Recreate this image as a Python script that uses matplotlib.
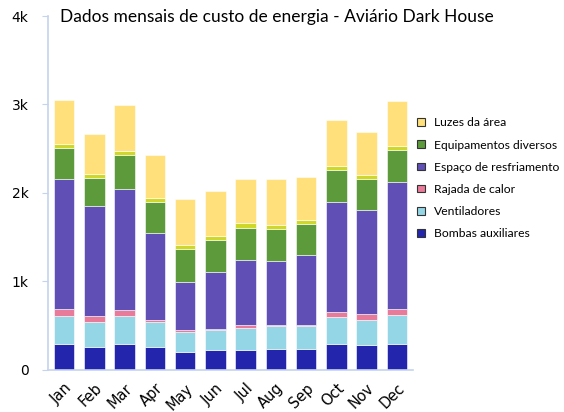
import matplotlib.pyplot as plt
import numpy as np

months = ["Jan", "Feb", "Mar", "Apr", "May", "Jun", "Jul", "Aug", "Sep", "Oct", "Nov", "Dec"]
bombas = [294, 260, 290, 260, 200, 215, 215, 230, 230, 294, 279, 294]
ventiladores = [316, 275, 320, 275, 229, 233, 256, 263, 263, 301, 286, 320]
rajada = [76, 75, 64, 30, 15, 15, 34, 15, 15, 60, 60, 75]
espaco = [1469, 1235, 1371, 975, 550, 637, 734, 716, 792, 1240, 1179, 1427]
equipamentos = [350, 321, 381, 350, 366, 365, 362, 362, 346, 361, 346, 370]
outros = [45, 49, 45, 50, 45, 49, 52, 49, 45, 46, 46, 45]
luzes = [501, 455, 520, 486, 520, 505, 497, 515, 482, 520, 490, 509]

series = [
    ("Bombas auxiliares", bombas, "#2326ad"),
    ("Ventiladores", ventiladores, "#94d6e6"),
    ("Rajada de calor", rajada, "#e87a9a"),
    ("Espaço de resfriamento", espaco, "#6050b5"),
    ("Equipamentos diversos", equipamentos, "#5c9a3c"),
    (None, outros, "#cfd82a"),
    ("Luzes da área", luzes, "#ffe07a"),
]

fig = plt.figure(figsize=(5.64, 4.12), dpi=100)
ax = fig.add_axes([48 / 564, 42.5 / 412, 365 / 564, 353.5 / 412])

x = np.arange(len(months))
bottom = np.zeros(len(months))
handles = []
for name, vals, col in series:
    b = ax.bar(x, vals, 0.68, bottom=bottom, color=col, edgecolor="white",
               linewidth=0.4)
    if name:
        handles.append((b, name))
    bottom += np.array(vals)

ax.set_xlim(-0.53, 11.53)
ax.set_ylim(0, 4000)
ax.set_yticks([0, 1000, 2000, 3000, 4000])
ax.set_yticklabels(["0", "1k", "2k", "3k", "4k"])
ax.set_xticks(x)
ax.set_xticklabels(months, rotation=45, ha="right", rotation_mode="anchor")
ax.tick_params(axis="y", length=4, color="#c5d3ee", labelsize=10, pad=10)
ax.tick_params(axis="x", length=0, labelsize=10.5, pad=8)
for s in ["top", "right"]:
    ax.spines[s].set_visible(False)
for s in ["left", "bottom"]:
    ax.spines[s].set_color("#c5d3ee")
    ax.spines[s].set_linewidth(1.2)

handles = handles[::-1]
leg = fig.legend([h[0] for h in handles], [h[1] for h in handles],
                 loc="upper left", bbox_to_anchor=(409 / 564, 1 - 109 / 412),
                 frameon=False, prop={"family": ["Lato", "DejaVu Sans"], "size": 8.7},
                 handlelength=0.6, handleheight=0.6, handletextpad=0.75,
                 labelspacing=0.92, borderaxespad=0.3)
for p in leg.get_patches():
    p.set_edgecolor("#333333")
    p.set_linewidth(0.8)

fig.text(277 / 564, 1 - 17 / 412, "Dados mensais de custo de energia - Aviário Dark House",
         ha="center", va="center", fontsize=12.5, family=["Lato", "DejaVu Sans"])

fig.savefig("out.png", dpi=100)
